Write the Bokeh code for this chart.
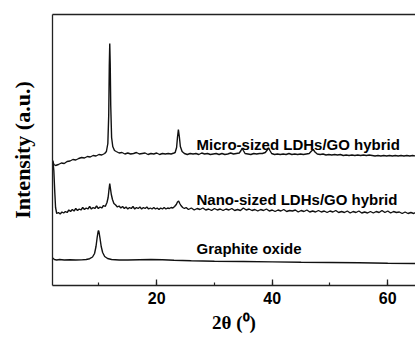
from bokeh.plotting import figure
from bokeh.models import Range1d, LinearAxis, FixedTicker, SingleIntervalTicker, Label
from bokeh.embed import file_html
from bokeh.resources import INLINE

# ---- data (2theta in degrees, intensity in arbitrary units) ----
micro_2theta = [2.0, 2.2, 2.5, 3.0, 3.5, 4.0, 4.5, 5.0, 5.5, 6.0, 6.5, 7.0, 7.5, 8.0, 8.5, 9.0, 9.5, 10.0, 10.5, 11.0,
                11.3, 11.55, 11.7, 11.8, 11.88, 11.96, 12.05, 12.2, 12.4, 12.7, 13.0, 13.5, 14.0, 14.5, 15.0, 15.5, 16.0,
                16.5, 17.0, 17.5, 18.0, 18.5, 19.0, 19.5, 20.0, 20.5, 21.0, 21.5, 22.0, 22.5, 23.0, 23.2, 23.45, 23.6,
                23.76, 23.92, 24.1, 24.4, 24.8, 25.3, 25.8, 26.3, 26.8, 27.3, 27.8, 28.3, 28.8, 29.3, 29.8, 30.3, 30.8,
                31.3, 31.8, 32.3, 32.8, 33.3, 33.8, 34.3, 34.6, 34.8, 35.0, 35.3, 35.8, 36.3, 36.8, 37.3, 37.8, 38.3,
                38.8, 39.2, 39.4, 39.6, 39.9, 40.4, 40.9, 41.4, 41.9, 42.4, 42.9, 43.4, 43.9, 44.4, 44.9, 45.4, 45.9,
                46.4, 46.8, 47.1, 47.4, 47.8, 48.3, 48.8, 49.3, 49.8, 50.3, 50.8, 51.3, 51.8, 52.3, 52.8, 53.3, 53.8,
                54.3, 54.8, 55.3, 55.8, 56.3, 56.8, 57.3, 57.8, 58.3, 58.8, 59.3, 59.8, 60.3, 60.8, 61.3, 61.8, 62.3,
                62.8, 63.3, 63.8, 64.3, 64.8]
micro_intensity = [125, 121, 120, 121, 122.5, 122, 124, 124.5, 126, 125.5, 127, 128, 127.5, 129, 128.5, 130, 129.5, 131, 130.5, 132,
                   134, 142, 170, 220, 242, 222, 180, 148, 139, 135, 134, 132.5, 133, 131.5, 132.5, 131.5, 132,
                   133, 131.5, 132, 132.5, 131, 132, 131.5, 132.5, 131, 132, 131.5, 132, 131.5, 132.5, 133, 138, 148,
                   156, 149, 139, 134, 132, 131, 132, 131.5, 132, 131, 132.5, 131.5, 132, 131, 131.5, 132, 131,
                   132, 131, 131.5, 132.5, 131.5, 132, 132.5, 135, 137.5, 135, 132, 131.5, 131, 132, 131.5, 132, 132,
                   133, 136, 137.5, 135, 132, 131, 131.5, 131, 131.5, 131, 132, 131, 131.5, 131, 131.5, 131, 131.5,
                   132, 134.5, 136, 133.5, 131.5, 131, 131.5, 130.5, 131, 130.5, 131, 130.5, 131, 130, 130.5, 130, 130.5,
                   130, 130.5, 130, 130.5, 130, 130.5, 130, 129.5, 130, 129.5, 130, 129.5, 130, 129.5, 130, 129.5, 130,
                   129.5, 130, 129.5, 130, 129.5]

nano_2theta = [2.05, 2.2, 2.35, 2.5, 2.7, 3.0, 3.3, 3.6, 3.9, 4.2, 4.5, 4.8, 5.1, 5.4, 5.7, 6.0, 6.3, 6.6, 6.9, 7.2, 7.5,
               7.8, 8.1, 8.4, 8.7, 9.0, 9.3, 9.6, 9.9, 10.2, 10.5, 10.8, 11.1, 11.4, 11.6, 11.75, 11.88, 12.0, 12.15,
               12.35, 12.6, 12.9, 13.2, 13.5, 13.8, 14.1, 14.4, 14.7, 15.0, 15.3, 15.6, 15.9, 16.2, 16.5, 16.8, 17.1,
               17.4, 17.7, 18.0, 18.3, 18.6, 18.9, 19.2, 19.5, 19.8, 20.1, 20.4, 20.7, 21.0, 21.3, 21.6, 21.9, 22.2,
               22.5, 22.8, 23.1, 23.4, 23.6, 23.8, 24.0, 24.2, 24.5, 24.8, 25.1, 25.4, 25.5, 26.0, 26.5, 27.0, 27.5,
               28.0, 28.5, 29.0, 29.5, 30.0, 30.5, 31.0, 31.5, 32.0, 32.5, 33.0, 33.5, 34.0, 34.5, 35.0, 35.5, 36.0,
               36.5, 37.0, 37.5, 38.0, 38.5, 39.0, 39.5, 40.0, 40.5, 41.0, 41.5, 42.0, 42.5, 43.0, 43.5, 44.0, 44.5,
               45.0, 45.5, 46.0, 46.5, 47.0, 47.5, 48.0, 48.5, 49.0, 49.5, 50.0, 50.5, 51.0, 51.5, 52.0, 52.5, 53.0,
               53.5, 54.0, 54.5, 55.0, 55.5, 56.0, 56.5, 57.0, 57.5, 58.0, 58.5, 59.0, 59.5, 60.0, 60.5, 61.0, 61.5,
               62.0, 62.5, 63.0, 63.5, 64.0, 64.5, 64.8]
nano_intensity = [124, 115, 95, 78, 72, 73, 71.5, 73.5, 72.5, 74, 73, 75.5, 74, 76, 74.5, 77, 75, 76.5, 75.5, 78, 76,
                  77.5, 76.5, 79, 76.5, 78, 77, 79.5, 77, 78.5, 77.5, 80, 79, 83, 88, 96, 102, 97, 91,
                  86, 82, 80.5, 78.5, 79.5, 77.5, 79, 77, 78.5, 76.5, 78, 77, 79, 76.5, 78, 77, 78.5,
                  76.5, 78, 77, 78.5, 76.5, 77.5, 76.5, 78, 76.5, 77.5, 76, 77.5, 76.5, 78, 76.5, 77.5, 77,
                  78, 77.5, 79, 81, 83.5, 84.5, 82, 80, 78, 77, 78, 76.5, 76, 77.5, 75.5, 77, 76,
                  77.5, 75.5, 76.5, 75, 77, 75.5, 76.5, 75, 76.5, 75.5, 77, 75, 76, 75, 77.5, 75.5, 76.5,
                  75, 76, 74.5, 76, 75, 76.5, 74.5, 75.5, 74, 75.5, 74.5, 76, 74, 75, 74.5, 75.5, 73.5,
                  75, 74, 75.5, 73.5, 74.5, 73.5, 75, 73.5, 74.5, 73, 74.5, 73.5, 75, 73, 74, 73, 74.5,
                  72.5, 74, 73, 74.5, 72.5, 73.5, 72.5, 74, 72.5, 74, 73, 75, 73, 74.5, 72.5, 74, 73,
                  73.5, 72, 73.5, 72, 73, 72, 73]

go_2theta = [2.0, 2.3, 2.7, 3.2, 4.0, 5.0, 6.0, 7.0, 7.8, 8.4, 8.9, 9.25, 9.5, 9.7, 9.85, 9.93, 10.02, 10.2, 10.4, 10.65,
             11.0, 11.5, 12.2, 13.5, 15.0, 17.0, 19.0, 21.0, 23.0, 26.0, 30.0, 35.0, 40.0, 45.0, 50.0, 55.0, 60.0, 64.8]
go_intensity = [27.5, 26, 25.5, 26, 25.5, 25.8, 25.5, 25.6, 26, 26.8, 28.5, 32, 39, 48, 53.5, 55, 53.5, 47, 39, 33,
                29, 27, 26, 25.5, 25.5, 25.8, 26, 25.8, 25.3, 24.8, 24.3, 24, 23.6, 23.2, 23, 22.7, 22.3, 22]

series_names = ["Micro-sized LDHs/GO hybrid", "Nano-sized LDHs/GO hybrid", "Graphite oxide"]

# ---- figure ----
p = figure(width=415, height=338, output_backend="svg", toolbar_location=None,
           x_range=Range1d(1.97, 64.8), y_range=Range1d(0, 271),
           min_border_left=52, min_border_right=0, min_border_top=14, min_border_bottom=53)
p.background_fill_color = "white"
p.border_fill_color = "white"
p.outline_line_color = None
p.xgrid.visible = False
p.ygrid.visible = False

ink = "#111111"
for xs, ys in [(micro_2theta, micro_intensity), (nano_2theta, nano_intensity), (go_2theta, go_intensity)]:
    p.line(xs, ys, line_color=ink, line_width=1.4)

# x axis
xa = p.xaxis[0]
xa.ticker = SingleIntervalTicker(interval=20, num_minor_ticks=2)
xa.major_tick_in = 6
xa.major_tick_out = 0
xa.minor_tick_in = 3
xa.minor_tick_out = 0
xa.major_tick_line_color = "#222222"
xa.minor_tick_line_color = "#222222"
xa.major_tick_line_width = 1.3
xa.minor_tick_line_width = 1.2
xa.axis_line_color = "#222222"
xa.axis_line_width = 1.3
xa.major_label_text_font = "Liberation Sans"
xa.major_label_text_font_style = "bold"
xa.major_label_text_font_size = "16px"
xa.major_label_text_color = "black"
xa.major_label_standoff = 6
xa.axis_label = "2θ (⁰)"
xa.axis_label_text_font = "Liberation Serif"
xa.axis_label_text_font_style = "bold"
xa.axis_label_text_font_size = "19px"
xa.axis_label_text_color = "black"
xa.axis_label_standoff = 5

# y axis
ya = p.yaxis[0]
ya.ticker = FixedTicker(ticks=[])
ya.major_tick_in = 0
ya.major_tick_out = 0
ya.minor_tick_in = 0
ya.minor_tick_out = 0
ya.axis_line_color = "#222222"
ya.axis_line_width = 1.3
ya.axis_label = "Intensity (a.u.)"
ya.axis_label_text_font = "Liberation Serif"
ya.axis_label_text_font_style = "bold"
ya.axis_label_text_font_size = "22px"
ya.axis_label_text_color = "black"
ya.axis_label_standoff = 18

# top frame line
top = LinearAxis(ticker=FixedTicker(ticks=[]), major_tick_in=0, major_tick_out=0,
                 minor_tick_in=0, minor_tick_out=0, major_label_text_font_size="0px",
                 axis_line_color="#222222", axis_line_width=1.3)
p.add_layout(top, "above")

# series labels
label_y = [141, 86, 37]
for name, ly in zip(series_names, label_y):
    p.add_layout(Label(x=26.9, y=ly, text=name, text_font="Liberation Sans", text_font_style="bold",
                       text_font_size="15px", text_color="black", text_baseline="alphabetic", text_align="left"))

open("out.html", "w").write(file_html(p, INLINE))
